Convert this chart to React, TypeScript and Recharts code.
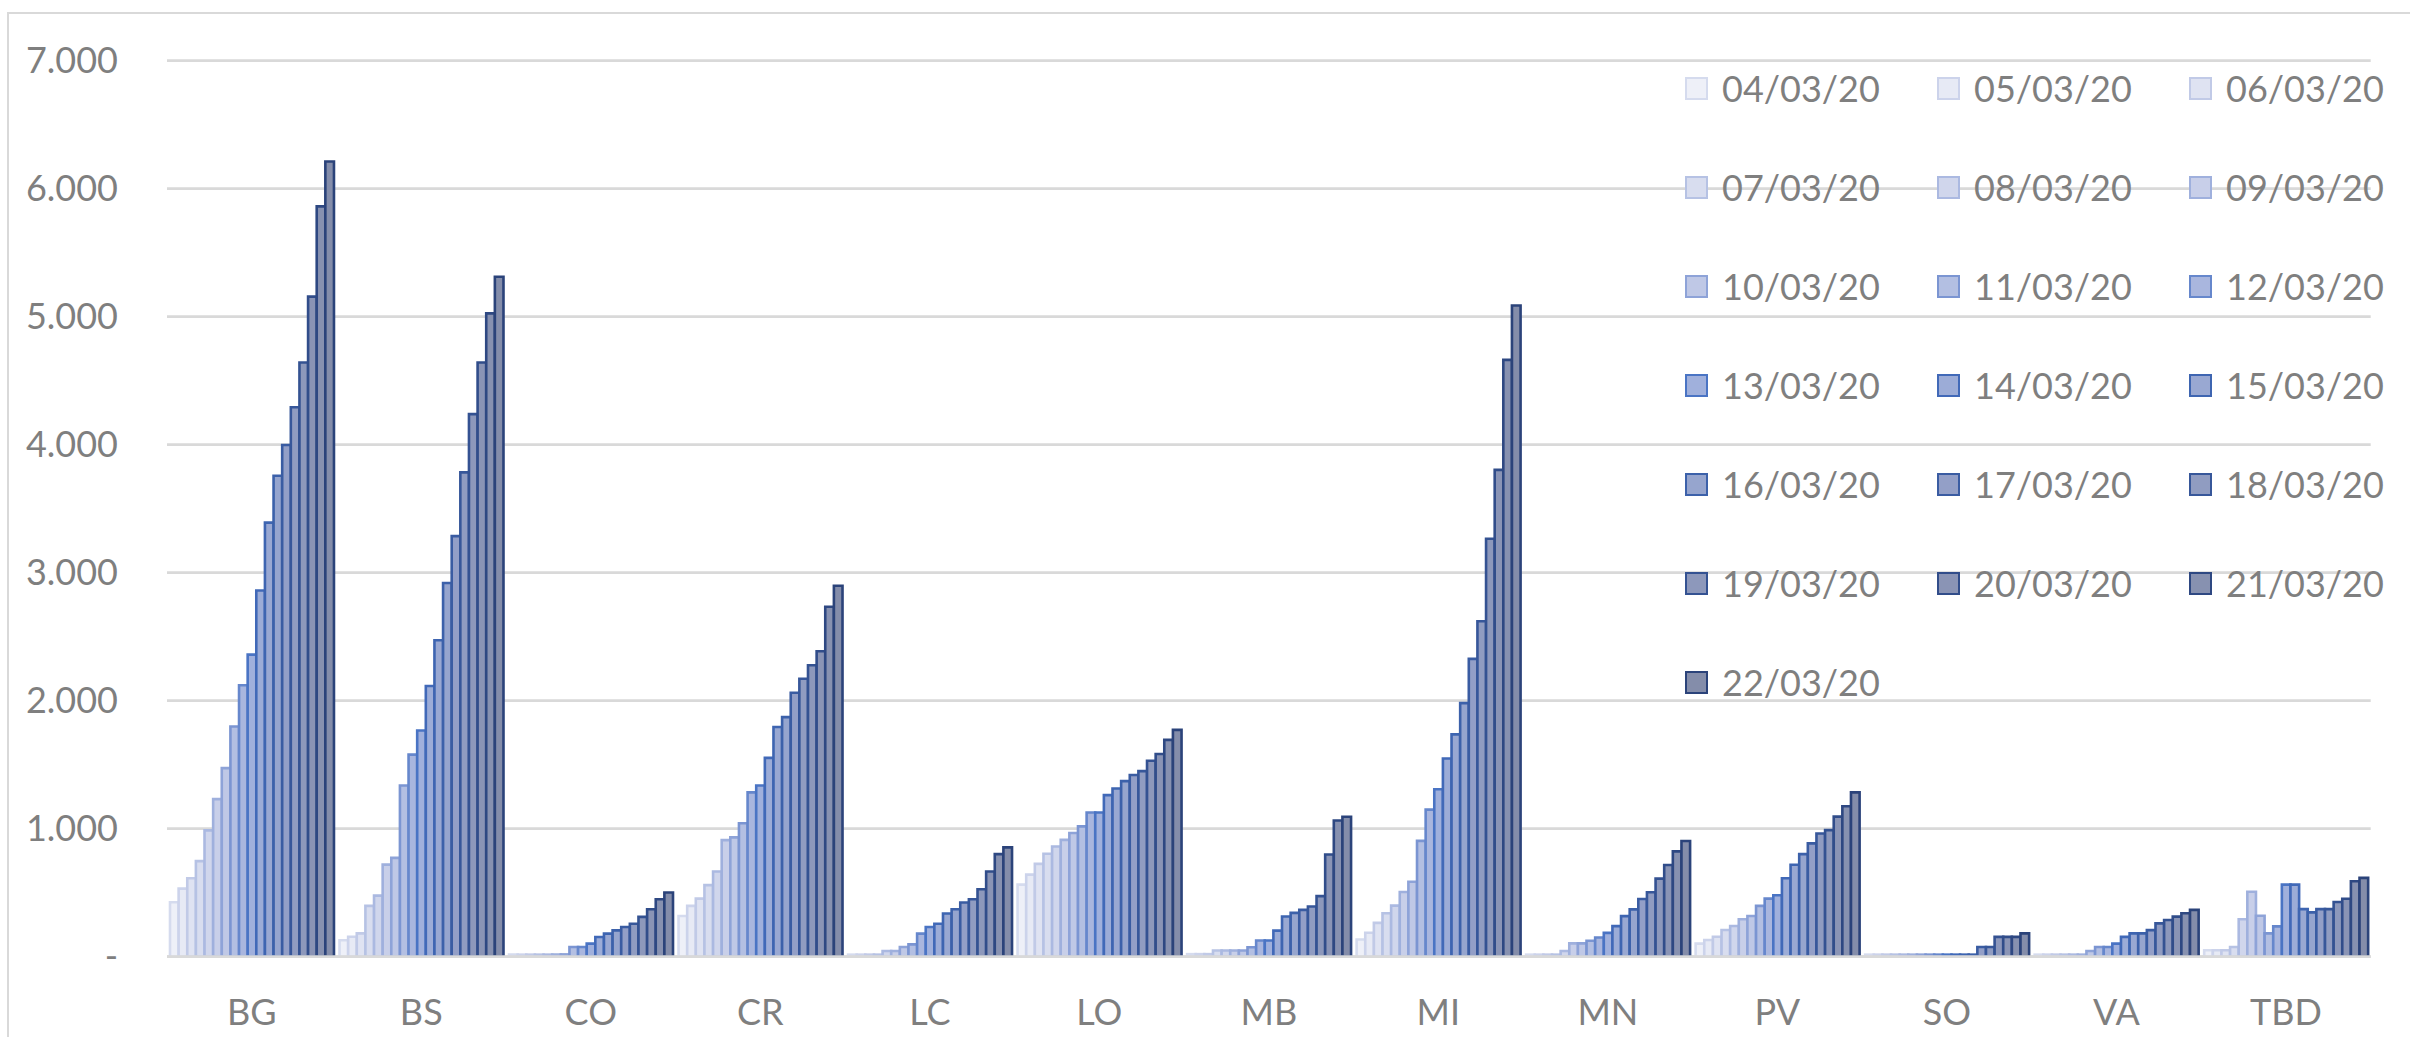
import React from 'react';
import { BarChart, Bar, XAxis, YAxis, CartesianGrid } from 'recharts';

const categories = ['BG', 'BS', 'CO', 'CR', 'LC', 'LO', 'MB', 'MI', 'MN', 'PV', 'SO', 'VA', 'TBD'];
const dates = [
  '04/03/20', '05/03/20', '06/03/20', '07/03/20', '08/03/20', '09/03/20', '10/03/20',
  '11/03/20', '12/03/20', '13/03/20', '14/03/20', '15/03/20', '16/03/20', '17/03/20',
  '18/03/20', '19/03/20', '20/03/20', '21/03/20', '22/03/20',
];
const yTicks = [0, 1000, 2000, 3000, 4000, 5000, 6000, 7000];

// values per province, one per date (04/03 .. 22/03)
const BG = [425, 532, 613, 747, 987, 1231, 1473, 1798, 2121, 2360, 2861, 3391, 3758, 3998, 4292, 4642, 5157, 5862, 6212];
const BS = [129, 156, 182, 397, 477, 719, 772, 1338, 1579, 1767, 2115, 2472, 2919, 3286, 3784, 4239, 4642, 5026, 5312];
const CO = [16, 16, 16, 16, 16, 17, 18, 76, 76, 102, 154, 180, 206, 232, 258, 311, 371, 449, 501];
const CR = [318, 397, 454, 559, 666, 911, 932, 1042, 1284, 1337, 1553, 1794, 1872, 2062, 2172, 2277, 2386, 2734, 2898];
const LC = [16, 16, 16, 16, 44, 44, 76, 96, 180, 232, 258, 337, 371, 423, 449, 527, 666, 801, 854];
const LO = [563, 641, 725, 804, 861, 913, 966, 1018, 1126, 1126, 1262, 1314, 1372, 1419, 1450, 1531, 1584, 1694, 1772];
const MB = [20, 20, 20, 48, 48, 48, 48, 74, 126, 126, 204, 314, 342, 366, 392, 473, 798, 1064, 1093];
const MI = [134, 187, 264, 339, 399, 505, 586, 905, 1149, 1308, 1549, 1737, 1981, 2327, 2621, 3265, 3803, 4663, 5088];
const MN = [16, 16, 16, 16, 44, 104, 104, 125, 150, 186, 239, 317, 370, 451, 504, 610, 716, 823, 904];
const PV = [102, 130, 156, 209, 240, 292, 318, 397, 454, 480, 613, 718, 801, 885, 963, 989, 1094, 1175, 1284];
const SO = [16, 16, 16, 16, 16, 16, 16, 16, 16, 16, 16, 16, 16, 76, 76, 155, 155, 155, 182];
const VA = [16, 16, 16, 16, 16, 16, 45, 76, 76, 102, 155, 182, 182, 208, 260, 287, 313, 339, 366];
const TBD = [50, 50, 50, 76, 292, 508, 320, 182, 237, 563, 563, 372, 346, 372, 372, 427, 453, 590, 616];

const byCategory = [BG, BS, CO, CR, LC, LO, MB, MI, MN, PV, SO, VA, TBD];

const strokes = [
  '#d5dbee', '#ccd3eb', '#c1cae7', '#b6c2e4', '#abb9e1', '#9fb0dd', '#8ea3d8', '#7b95d2', '#6687cc', '#4a74c4',
  '#4169b8', '#3e65b1', '#3c61aa', '#3a5ca2', '#37579a', '#345292', '#314d8a', '#2e4882', '#2b437a',
];
const fills = [
  '#eef0f8', '#e7eaf5', '#dfe3f2', '#d8ddef', '#d0d6ec', '#c8cfe9', '#bfc8e6', '#b3bfe2', '#a9b6de', '#a0b0dc',
  '#9cacd7', '#99a8d2', '#96a5ce', '#939fc7', '#909cc1', '#8d98bb', '#8a94b5', '#8791b0', '#848daa',
];

const data = categories.map((cat, ci) => {
  const row: Record<string, string | number> = { cat };
  dates.forEach((_, si) => {
    row['s' + si] = byCategory[ci][si];
  });
  return row;
});

const TEXT = '#7f7f7f';
const GRID = '#d9d9d9';
const FONT = 'Lato, "Open Sans", sans-serif';

const fmt = (v: number) => {
  if (v === 0) return '-';
  const th = Math.floor(v / 1000);
  const rest = String(v % 1000).padStart(3, '0');
  return `${th}.${rest}`;
};

const LegendGrid = () => {
  const colLeft = [1685, 1937, 2189];
  return (
    <div style={{ position: 'absolute', left: 0, top: 0, width: 2410, height: 1037, pointerEvents: 'none' }}>
      {dates.map((d, i) => {
        const r = Math.floor(i / 3);
        const c = i % 3;
        const cy = 88 + r * 99;
        return (
          <div
            key={d}
            style={{
              position: 'absolute',
              left: colLeft[c],
              top: cy - 25,
              height: 50,
              display: 'flex',
              alignItems: 'center',
              whiteSpace: 'nowrap',
            }}
          >
            <div
              style={{
                width: 23,
                height: 23,
                boxSizing: 'border-box',
                border: `2.5px solid ${strokes[i]}`,
                background: fills[i],
                marginRight: 14,
              }}
            />
            <span style={{ fontFamily: FONT, fontSize: 36, color: TEXT, lineHeight: '50px' }}>{d}</span>
          </div>
        );
      })}
    </div>
  );
};

export default function App() {
  return (
    <div
      style={{
        position: 'absolute',
        left: 0,
        top: 0,
        width: 2410,
        height: 1037,
        overflow: 'hidden',
        background: '#ffffff',
        fontFamily: FONT,
      }}
    >
      <div
        style={{
          position: 'absolute',
          left: 6.5,
          top: 11.7,
          width: 2600,
          height: 1200,
          borderLeft: `2.4px solid ${GRID}`,
          borderTop: `2.4px solid ${GRID}`,
        }}
      />
      <div style={{ position: 'absolute', left: 0, top: 0 }}>
        <BarChart
          width={2410}
          height={1037}
          data={data}
          margin={{ top: 60.7, right: 39.3, bottom: 30.3, left: 0 }}
          barGap={0}
          barSize={8.63}
        >
          <CartesianGrid vertical={false} stroke={GRID} strokeWidth={2.8} />
          <XAxis
            dataKey="cat"
            interval={0}
            height={50}
            tickLine={false}
            tickSize={0}
            tickMargin={43}
            axisLine={{ stroke: GRID, strokeWidth: 2.8 }}
            tick={{ fontSize: 36, fill: TEXT, fontFamily: FONT }}
          />
          <YAxis
            width={167}
            domain={[0, 7000]}
            ticks={yTicks}
            interval={0}
            axisLine={false}
            tickLine={false}
            tickSize={0}
            tickMargin={49}
            tickFormatter={fmt}
            tick={{ fontSize: 36, fill: TEXT, fontFamily: FONT }}
          />
          {dates.map((d, i) => (
            <Bar
              key={d}
              dataKey={'s' + i}
              name={d}
              fill={fills[i]}
              stroke={strokes[i]}
              strokeWidth={2.6}
              isAnimationActive={false}
            />
          ))}
        </BarChart>
      </div>
      <LegendGrid />
    </div>
  );
}
